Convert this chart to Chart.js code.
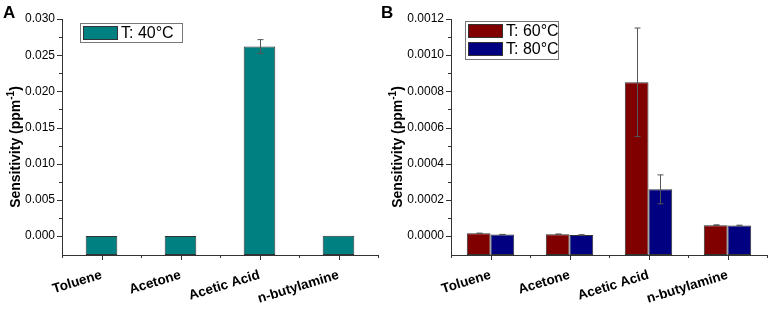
<!DOCTYPE html>
<html>
<head>
<meta charset="utf-8">
<script src="https://cdn.jsdelivr.net/npm/chart.js@4/dist/chart.umd.min.js"></script>
<style>
  body { margin: 0; background: #fff; }
  #wrap { display: flex; width: 772px; height: 316px; }
  canvas { display: block; }
</style>
</head>
<body>
<div id="wrap">
  <canvas id="chartA" width="380" height="316"></canvas>
  <canvas id="chartB" width="392" height="316"></canvas>
</div>
<script>
// gases tested
const categories = ['Toluene', 'Acetone', 'Acetic Acid', 'n-butylamine'];

// panel A: 40 °C
const sens40 = [0.00002, 0.00001, 0.0262, 0.00006];
const err40 = [0, 0, 0.00095, 0];

// panel B: 60 °C and 80 °C
const sens60 = [0.000015, 0.00001, 0.00085, 0.00006];
const err60 = [0.000001, 0.000001, 0.0003, 0.000002];
const sens80 = [0.000008, 0.000006, 0.000258, 0.000058];
const err80 = [0.000001, 0.000001, 0.00008, 0.000002];

// y tick labels
const ticksA = [0, 0.005, 0.010, 0.015, 0.020, 0.025, 0.030];
const ticksB = [0, 0.0002, 0.0004, 0.0006, 0.0008, 0.0010, 0.0012];

const FONT = 'Arial, "Liberation Sans", sans-serif';
const AXIS = '#333';

// error bars, ticks, legend, y title, panel letter
const originPlugin = {
  id: 'origin',
  afterDatasetsDraw(chart, args, opts) {
    const ctx = chart.ctx;
    const y = chart.scales.y;
    ctx.save();
    ctx.strokeStyle = '#555';
    ctx.lineWidth = 1;
    chart.data.datasets.forEach((ds, i) => {
      const meta = chart.getDatasetMeta(i);
      meta.data.forEach((bar, j) => {
        const e = ds.errors[j];
        if (!e) return;
        const x = Math.round(bar.x) + 0.5;
        const yt = y.getPixelForValue(ds.data[j] + e);
        const yb = y.getPixelForValue(ds.data[j] - e);
        ctx.beginPath();
        ctx.moveTo(x, yt); ctx.lineTo(x, yb);
        ctx.moveTo(x - 3, yt); ctx.lineTo(x + 3, yt);
        ctx.moveTo(x - 3, yb); ctx.lineTo(x + 3, yb);
        ctx.stroke();
      });
    });
    ctx.restore();
  },
  afterDraw(chart, args, opts) {
    const ctx = chart.ctx;
    const xs = chart.scales.x;
    const ys = chart.scales.y;
    const area = chart.chartArea;
    ctx.save();
    ctx.strokeStyle = AXIS;
    ctx.lineWidth = 1;
    ctx.beginPath();
    // x ticks: major at categories, minor at boundaries
    for (let i = 0; i < categories.length; i++) {
      const x = Math.round(xs.getPixelForValue(i)) + 0.5;
      ctx.moveTo(x, area.bottom); ctx.lineTo(x, area.bottom + 5);
    }
    for (let i = -0.5; i <= categories.length - 0.5; i++) {
      const x = Math.round(xs.getPixelForValue(i)) + 0.5;
      ctx.moveTo(x, area.bottom); ctx.lineTo(x, area.bottom + 3);
    }
    // y ticks: major at labels, minor halfway
    ys.ticks.forEach(t => {
      const yy = Math.round(ys.getPixelForValue(t.value)) + 0.5;
      ctx.moveTo(area.left, yy); ctx.lineTo(area.left - 5, yy);
    });
    for (let v = ys.min + opts.minorStep; v < ys.max; v += opts.minorStep) {
      const k = Math.round(v / opts.minorStep);
      if (k % 2 === 0) continue;
      const yy = Math.round(ys.getPixelForValue(k * opts.minorStep)) + 0.5;
      ctx.moveTo(area.left, yy); ctx.lineTo(area.left - 3, yy);
    }
    ctx.stroke();

    // legend box
    const lb = opts.legend;
    ctx.strokeStyle = '#777';
    ctx.strokeRect(lb.x + 0.5, lb.y + 0.5, lb.w, lb.h);
    ctx.font = '16px ' + FONT;
    ctx.textBaseline = 'middle';
    ctx.textAlign = 'left';
    chart.data.datasets.forEach((ds, i) => {
      const sy = lb.y + 3 + i * 18;
      ctx.fillStyle = ds.backgroundColor;
      ctx.fillRect(lb.x + 3.5, sy + 0.5, 34, 13);
      ctx.strokeStyle = '#333';
      ctx.strokeRect(lb.x + 3.5, sy + 0.5, 34, 13);
      ctx.fillStyle = '#000';
      ctx.fillText(ds.label, lb.x + 41, sy + 8);
    });

    // y title with superscript
    ctx.translate(opts.titleX, 147);
    ctx.rotate(-Math.PI / 2);
    const main = 'Sensitivity (ppm';
    const sup = '-1';
    const close = ')';
    ctx.font = 'bold 14px ' + FONT;
    const wMain = ctx.measureText(main).width;
    const wClose = ctx.measureText(close).width;
    ctx.font = 'bold 10px ' + FONT;
    const wSup = ctx.measureText(sup).width;
    let x0 = -(wMain + wSup + wClose) / 2;
    ctx.fillStyle = '#000';
    ctx.textBaseline = 'middle';
    ctx.font = 'bold 14px ' + FONT;
    ctx.fillText(main, x0, 0);
    ctx.font = 'bold 10px ' + FONT;
    ctx.fillText(sup, x0 + wMain, -5);
    ctx.font = 'bold 14px ' + FONT;
    ctx.fillText(close, x0 + wMain + wSup, 0);
    ctx.setTransform(1, 0, 0, 1, 0, 0);

    // panel letter
    ctx.font = 'bold 17px ' + FONT;
    ctx.textBaseline = 'alphabetic';
    ctx.fillText(opts.letter, opts.letterX, 18);
    ctx.restore();
  }
};

function makeChart(id, datasets, cfg) {
  return new Chart(document.getElementById(id), {
    type: 'bar',
    data: { labels: categories, datasets: datasets },
    options: {
      responsive: false,
      animation: false,
      layout: { padding: { top: 19, right: cfg.right, left: 0, bottom: 0 } },
      datasets: {
        bar: {
          base: cfg.min,
          categoryPercentage: cfg.catPct,
          barPercentage: cfg.barPct,
          borderWidth: 1,
          borderColor: '#333',
          borderSkipped: false
        }
      },
      scales: {
        x: {
          grid: { display: false, drawTicks: false },
          border: { display: true, color: AXIS, width: 1 },
          ticks: {
            color: '#000',
            font: { family: FONT, size: 13.5, weight: 'bold' },
            maxRotation: 17,
            minRotation: 17,
            padding: 12
          },
          afterFit(scale) { scale.height = 61; }
        },
        y: {
          min: cfg.min,
          max: cfg.max,
          grid: { display: false, drawTicks: false },
          border: { display: true, color: AXIS, width: 1 },
          afterBuildTicks(scale) {
            scale.ticks = cfg.ticks.map(v => ({ value: v }));
          },
          ticks: {
            color: '#000',
            font: { family: FONT, size: 12 },
            padding: 7,
            callback: v => v.toFixed(cfg.digits)
          },
          afterFit(scale) { scale.width = cfg.left; }
        }
      },
      plugins: {
        legend: { display: false },
        tooltip: { enabled: false },
        origin: cfg.origin
      }
    },
    plugins: [originPlugin]
  });
}

makeChart('chartA', [
  { label: 'T: 40°C', data: sens40, errors: err40, backgroundColor: '#008080' }
], {
  right: 2, left: 62, catPct: 1, barPct: 0.4,
  min: -0.0026, max: 0.030, ticks: ticksA, digits: 3,
  origin: { letter: 'A', letterX: 3, titleX: 16, minorStep: 0.0025, legend: { x: 80, y: 23, w: 102, h: 19 } }
});

makeChart('chartB', [
  { label: 'T: 60°C', data: sens60, errors: err60, backgroundColor: '#800000' },
  { label: 'T: 80°C', data: sens80, errors: err80, backgroundColor: '#000080' }
], {
  right: 5, left: 71, catPct: 0.6, barPct: 1,
  min: -0.000105, max: 0.0012, ticks: ticksB, digits: 4,
  origin: { letter: 'B', letterX: 1, titleX: 18, minorStep: 0.0001, legend: { x: 85, y: 21, w: 93, h: 38 } }
});
</script>
</body>
</html>
